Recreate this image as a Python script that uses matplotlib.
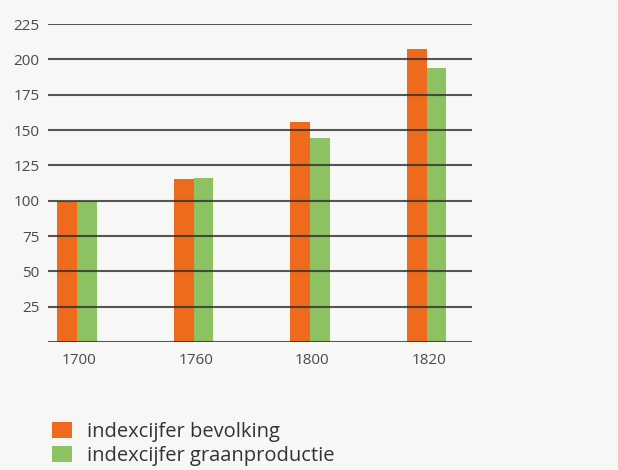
import numpy as np
import matplotlib
matplotlib.use("Agg")
import matplotlib.pyplot as plt
from matplotlib.patches import Patch

plt.rcParams['font.family'] = ['Open Sans', 'DejaVu Sans']

jaren = ["1700", "1760", "1800", "1820"]
bevolking = [100, 115, 156, 207]
graan = [100, 116, 144, 194]
yticks = [25, 50, 75, 100, 125, 150, 175, 200, 225]

oranje = "#ee6a1c"
groen = "#8dc262"
tekst = "#4a4a4a"

fig = plt.figure(figsize=(6.18, 4.70), dpi=100, facecolor="#f7f7f5")
ax = fig.add_axes([48/618, 1 - 342/470, 424/618, 318/470])
ax.set_facecolor("none")

x = np.arange(len(jaren))
w = 0.168
ax.bar(x - w/2, bevolking, w, color=oranje, zorder=2)
ax.bar(x + w/2, graan, w, color=groen, zorder=2)

# horizontale lijnen
for y in [0] + yticks:
    ax.axhline(y, color="#2e2e2e", lw=1.5, alpha=0.8, zorder=3)

ax.set_xlim(-0.249, 3.39)
ax.set_ylim(0, 225)
ax.set_yticks(yticks)
ax.set_yticklabels([str(v) for v in yticks])
ax.set_xticks(x + 0.02)
ax.set_xticklabels(jaren)
ax.tick_params(axis='y', length=0, pad=6, labelsize=11, labelcolor=tekst)
ax.tick_params(axis='x', length=0, pad=8, labelsize=11, labelcolor=tekst)
for s in ax.spines.values():
    s.set_visible(False)

handles = [Patch(facecolor=oranje), Patch(facecolor=groen)]
fig.legend(handles, ["indexcijfer bevolking", "indexcijfer graanproductie"],
           loc="upper left", bbox_to_anchor=(46/618, 1 - 416/470),
           frameon=False, fontsize=14.5, handlelength=1.0, handleheight=0.85,
           handletextpad=0.75, labelspacing=0.2, labelcolor="#333333",
           borderaxespad=0, borderpad=0.3)

fig.savefig("out.png", dpi=100, facecolor=fig.get_facecolor())
